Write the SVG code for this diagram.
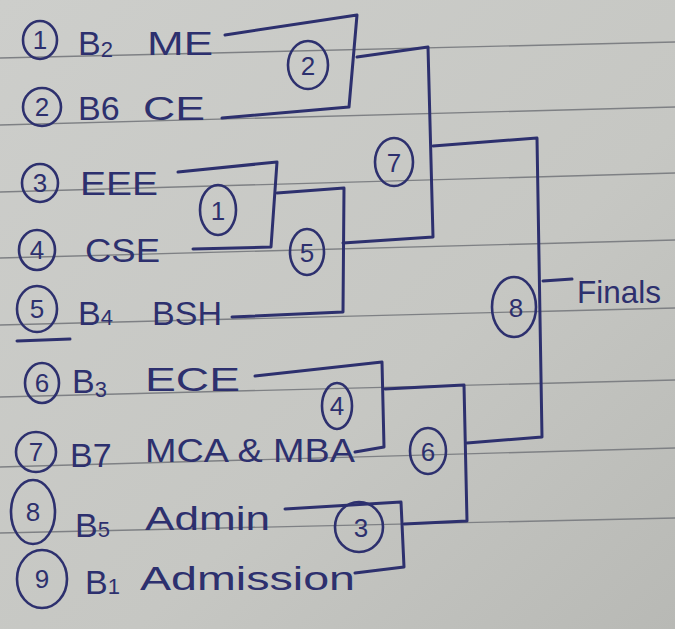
<svg xmlns="http://www.w3.org/2000/svg" width="675" height="629" viewBox="0 0 675 629">
<defs>
<linearGradient id="paper" x1="0" y1="0" x2="1" y2="1">
<stop offset="0" stop-color="#cdcecb"/>
<stop offset="0.6" stop-color="#c6c7c3"/>
<stop offset="1" stop-color="#b8b9b5"/>
</linearGradient>
<style>
.rule{stroke:#7e8084;stroke-width:1.4;fill:none}
.pen{fill:none;stroke:#2d306e;stroke-width:3;stroke-linecap:round;stroke-linejoin:round}
.ring{fill:none;stroke:#2d306e;stroke-width:2.6}
.hw{font-family:"Liberation Sans","DejaVu Sans",sans-serif;fill:#2d306e;font-size:34px}
.big{font-size:32px}
.num{font-family:"Liberation Sans","DejaVu Sans",sans-serif;fill:#2d306e;font-size:26px;text-anchor:middle}
.sub{font-size:22px}
</style>
</defs>
<rect width="675" height="629" fill="url(#paper)"/>
<g id="ruled-lines">
<line class="rule" x1="0" y1="58" x2="675" y2="42"/>
<line class="rule" x1="0" y1="125" x2="675" y2="107"/>
<line class="rule" x1="0" y1="192" x2="675" y2="173"/>
<line class="rule" x1="0" y1="258" x2="675" y2="240"/>
<line class="rule" x1="0" y1="325" x2="675" y2="308"/>
<line class="rule" x1="0" y1="397" x2="675" y2="380"/>
<line class="rule" x1="0" y1="467" x2="675" y2="448"/>
<line class="rule" x1="0" y1="533" x2="675" y2="518"/>
</g>
<g id="connectors">
<path class="pen" d="M225,35 L357,15 L349,107 L222,118"/>
<path class="pen" d="M357,57 L428,47 L433,237 L343,243"/>
<path class="pen" d="M433,146 L537,138 L542,437 L467,443"/>
<path class="pen" d="M543,281 L572,279"/>
<path class="pen" d="M178,172 L277,162 L271,247 L193,249"/>
<path class="pen" d="M277,193 L344,188 L343,312 L232,317"/>
<path class="pen" d="M255,376 L382,362 L384,447 L355,452"/>
<path class="pen" d="M385,389 L464,385 L467,521 L404,524"/>
<path class="pen" d="M285,509 L401,502 L404,567 L355,573"/>
</g>
<g id="team-1">
<ellipse class="ring" cx="40" cy="40" rx="17" ry="19"/>
<text class="num" x="40" y="49">1</text>
<text class="hw" x="78" y="55">B<tspan class="sub" dy="2">2</tspan><tspan x="147" dy="-2" textLength="66" lengthAdjust="spacingAndGlyphs">ME</tspan></text>
</g>
<g id="team-2">
<ellipse class="ring" cx="42" cy="107" rx="19" ry="19"/>
<text class="num" x="42" y="116">2</text>
<text class="hw" x="78" y="120">B6<tspan x="143" textLength="62" lengthAdjust="spacingAndGlyphs">CE</tspan></text>
</g>
<g id="team-3">
<ellipse class="ring" cx="40" cy="183" rx="18" ry="19"/>
<text class="num" x="40" y="192">3</text>
<text class="hw" x="80" y="195" textLength="78" lengthAdjust="spacingAndGlyphs">EEE</text>
</g>
<g id="team-4">
<ellipse class="ring" cx="37" cy="250" rx="18" ry="20"/>
<text class="num" x="37" y="259">4</text>
<text class="hw" x="85" y="262" textLength="75" lengthAdjust="spacingAndGlyphs">CSE</text>
</g>
<g id="team-5">
<ellipse class="ring" cx="37" cy="309" rx="20" ry="23"/>
<text class="num" x="37" y="318">5</text>
<path class="pen" d="M17,341 L70,339"/>
<text class="hw" x="78" y="325">B<tspan class="sub" dy="0">4</tspan><tspan x="152" textLength="70" lengthAdjust="spacingAndGlyphs">BSH</tspan></text>
</g>
<g id="team-6">
<ellipse class="ring" cx="42" cy="383" rx="17" ry="20"/>
<text class="num" x="42" y="392">6</text>
<text class="hw" x="72" y="393">B<tspan class="sub" dy="4">3</tspan><tspan x="145" dy="-6" textLength="95" lengthAdjust="spacingAndGlyphs">ECE</tspan></text>
</g>
<g id="team-7">
<ellipse class="ring" cx="36" cy="452" rx="20" ry="20"/>
<text class="num" x="36" y="461">7</text>
<text class="hw" x="70" y="467">B7<tspan x="145" dy="-5" textLength="210" lengthAdjust="spacingAndGlyphs">MCA &amp; MBA</tspan></text>
</g>
<g id="team-8">
<ellipse class="ring" cx="33" cy="512" rx="22" ry="32"/>
<text class="num" x="33" y="521">8</text>
<text class="hw" x="75" y="537">B<tspan class="sub">5</tspan><tspan x="145" dy="-7" textLength="125" lengthAdjust="spacingAndGlyphs">Admin</tspan></text>
</g>
<g id="team-9">
<ellipse class="ring" cx="42" cy="579" rx="25" ry="29"/>
<text class="num" x="42" y="588">9</text>
<text class="hw" x="85" y="594">B<tspan class="sub">1</tspan><tspan x="140" dy="-4" textLength="215" lengthAdjust="spacingAndGlyphs">Admission</tspan></text>
</g>
<g id="match-1">
<ellipse class="ring" cx="218" cy="210" rx="18" ry="25"/>
<text class="num" x="218" y="220">1</text>
</g>
<g id="match-2">
<ellipse class="ring" cx="308" cy="65" rx="20" ry="24"/>
<text class="num" x="308" y="75">2</text>
</g>
<g id="match-3">
<ellipse class="ring" cx="359" cy="527" rx="24" ry="25"/>
<text class="num" x="361" y="537">3</text>
</g>
<g id="match-4">
<ellipse class="ring" cx="337" cy="406" rx="15" ry="23"/>
<text class="num" x="337" y="415">4</text>
</g>
<g id="match-5">
<ellipse class="ring" cx="307" cy="252" rx="17" ry="23"/>
<text class="num" x="307" y="262">5</text>
</g>
<g id="match-6">
<ellipse class="ring" cx="428" cy="451" rx="18" ry="23"/>
<text class="num" x="428" y="461">6</text>
</g>
<g id="match-7">
<ellipse class="ring" cx="394" cy="162" rx="19" ry="24"/>
<text class="num" x="394" y="172">7</text>
</g>
<g id="match-8">
<ellipse class="ring" cx="514" cy="307" rx="22" ry="30"/>
<text class="num" x="516" y="317">8</text>
</g>
<g id="finals">
<text class="hw big" x="577" y="303" textLength="84" lengthAdjust="spacingAndGlyphs">Finals</text>
</g>
</svg>
